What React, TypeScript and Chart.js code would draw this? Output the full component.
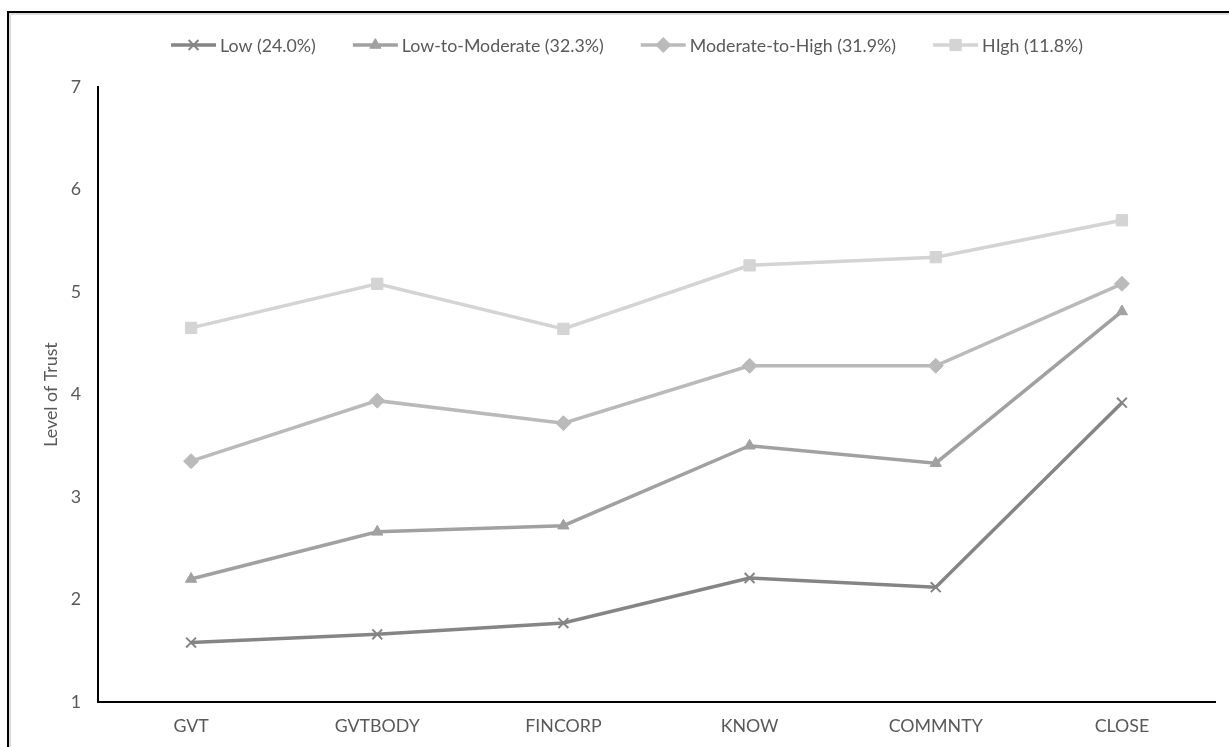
import React, { useEffect, useRef } from 'react';
import { Chart, registerables } from 'chart.js';
import { drawPoint } from 'chart.js/helpers';

Chart.register(...registerables);

// Trust domains along the x axis
const categories = ['GVT', 'GVTBODY', 'FINCORP', 'KNOW', 'COMMNTY', 'CLOSE'];

// Mean level of trust per group
const lowValues = [1.58, 1.66, 1.77, 2.21, 2.12, 3.92];
const lowToModerateValues = [2.2, 2.66, 2.72, 3.5, 3.33, 4.81];
const moderateToHighValues = [3.35, 3.94, 3.72, 4.28, 4.28, 5.08];
const highValues = [4.65, 5.08, 4.64, 5.26, 5.34, 5.7];

const seriesLabels = ['Low (24.0%)', 'Low-to-Moderate (32.3%)', 'Moderate-to-High (31.9%)', 'HIgh (11.8%)'];
const yMin = 1;
const yMax = 7;
const yStep = 1;
const yTitle = 'Level of Trust';

const FONT_FAMILY = 'Lato, "Open Sans", sans-serif';
const FONT_SIZE = 17.8;
const TEXT_COLOR = '#595959';

// Legend drawn as Excel-style line samples with the marker in the middle
const LEGEND_CENTER_X = 627;
const LEGEND_Y = 45;
const LEGEND_LINE = 45;
const LEGEND_TEXT_GAP = 4;
const LEGEND_ITEM_GAP = 37;

const lineLegend = {
  id: 'lineLegend',
  afterDraw(chart: any) {
    const ctx = chart.ctx as CanvasRenderingContext2D;
    ctx.save();
    ctx.font = `${FONT_SIZE}px ${FONT_FAMILY}`;
    const items = chart.data.datasets.map((ds: any) => ({ ds, w: ctx.measureText(ds.label).width }));
    const total =
      items.reduce((s: number, it: any) => s + LEGEND_LINE + LEGEND_TEXT_GAP + it.w, 0) +
      LEGEND_ITEM_GAP * (items.length - 1);
    let x = LEGEND_CENTER_X - total / 2;
    const y = LEGEND_Y;
    items.forEach(({ ds, w }: any) => {
      ctx.strokeStyle = ds.borderColor;
      ctx.lineWidth = ds.borderWidth;
      ctx.beginPath();
      ctx.moveTo(x, y);
      ctx.lineTo(x + LEGEND_LINE, y);
      ctx.stroke();
      ctx.fillStyle = ds.pointBackgroundColor;
      ctx.strokeStyle = ds.pointBorderColor;
      ctx.lineWidth = ds.pointBorderWidth;
      drawPoint(
        ctx,
        { pointStyle: ds.pointStyle, radius: ds.pointRadius, borderWidth: ds.pointBorderWidth, rotation: 0 } as any,
        x + LEGEND_LINE / 2,
        y
      );
      ctx.fillStyle = TEXT_COLOR;
      ctx.textAlign = 'left';
      ctx.textBaseline = 'middle';
      ctx.fillText(ds.label, x + LEGEND_LINE + LEGEND_TEXT_GAP, y + 1);
      x += LEGEND_LINE + LEGEND_TEXT_GAP + w + LEGEND_ITEM_GAP;
    });
    ctx.restore();
  },
};

function series(label: string, data: number[], color: string, pointStyle: string, radius: number, pbw: number) {
  return {
    label,
    data,
    borderColor: color,
    backgroundColor: color,
    borderWidth: 3.5,
    tension: 0,
    pointStyle,
    pointRadius: radius,
    pointHoverRadius: radius,
    pointBackgroundColor: color,
    pointBorderColor: color,
    pointBorderWidth: pbw,
  };
}

export default function App() {
  const canvasRef = useRef<HTMLCanvasElement | null>(null);

  useEffect(() => {
    if (!canvasRef.current) return;
    const chart = new Chart(canvasRef.current, {
      type: 'line',
      data: {
        labels: categories,
        datasets: [
          series(seriesLabels[0], lowValues, '#858585', 'crossRot', 7, 2),
          series(seriesLabels[1], lowToModerateValues, '#a1a1a1', 'triangle', 6.5, 1),
          series(seriesLabels[2], moderateToHighValues, '#bababa', 'rectRot', 7.5, 1),
          series(seriesLabels[3], highValues, '#d4d4d4', 'rect', 8, 1),
        ] as any,
      },
      options: {
        animation: false,
        responsive: false,
        maintainAspectRatio: false,
        events: [],
        layout: { padding: { top: 87, left: 0, right: 14, bottom: 0 } },
        plugins: {
          legend: { display: false },
          title: { display: false },
          tooltip: { enabled: false },
        },
        scales: {
          x: {
            type: 'category',
            offset: true,
            grid: { display: false, drawTicks: false },
            border: { display: true, color: '#000000', width: 2 },
            ticks: {
              color: TEXT_COLOR,
              font: { family: FONT_FAMILY, size: FONT_SIZE },
              padding: 14,
              maxRotation: 0,
              autoSkip: false,
            },
            afterFit: (scale: any) => {
              scale.height = 45;
            },
          },
          y: {
            min: yMin,
            max: yMax,
            grid: { display: false, drawTicks: false },
            border: { display: true, color: '#000000', width: 2 },
            ticks: {
              stepSize: yStep,
              color: TEXT_COLOR,
              font: { family: FONT_FAMILY, size: FONT_SIZE },
              padding: 17,
            },
            title: {
              display: true,
              text: yTitle,
              color: TEXT_COLOR,
              font: { family: FONT_FAMILY, size: FONT_SIZE },
              padding: { top: 41, bottom: 0 },
            },
            afterFit: (scale: any) => {
              scale.width = 98;
            },
          },
        },
      },
      plugins: [lineLegend],
    });
    return () => chart.destroy();
  }, []);

  return (
    <div
      style={{
        position: 'absolute',
        left: 0,
        top: 0,
        width: 1229,
        height: 747,
        overflow: 'hidden',
        background: '#ffffff',
      }}
    >
      <div
        style={{
          position: 'absolute',
          left: 7,
          top: 11,
          width: 1400,
          height: 900,
          borderLeft: '2px solid #000000',
          borderTop: '2px solid #000000',
          boxShadow: 'inset 2px 2px 0 #dcdcdc',
        }}
      />
      <canvas
        ref={canvasRef}
        width={1229}
        height={747}
        style={{ position: 'absolute', left: 0, top: 0, width: 1229, height: 747 }}
      />
    </div>
  );
}
